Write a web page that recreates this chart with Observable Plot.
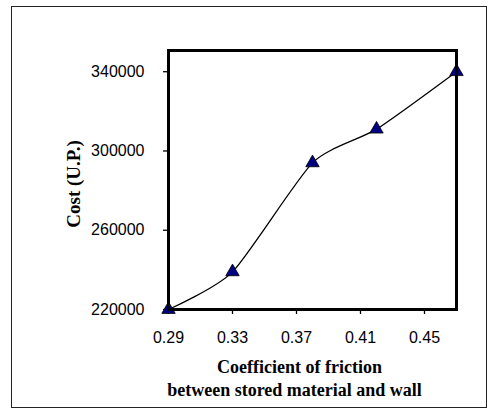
<!DOCTYPE html>
<html>
<head>
<meta charset="utf-8">
<script src="https://cdn.jsdelivr.net/npm/d3@7"></script>
<script src="https://cdn.jsdelivr.net/npm/@observablehq/plot@0.6"></script>
<style>
  html, body { margin: 0; padding: 0; background: #fff; }
  #wrap { position: relative; width: 490px; height: 410px; }
  #border { position: absolute; left: 11px; top: 6px; width: 474px; height: 400px; border: 1.5px solid #222; pointer-events: none; }
  #wrap svg { position: absolute; left: 0; top: 0; }
</style>
</head>
<body>
<div id="wrap"><div id="border"></div></div>
<script>
const friction = [0.29, 0.33, 0.38, 0.42, 0.47];
const cost = [220000, 239000, 294000, 311000, 340000];
const xTicks = [0.29, 0.33, 0.37, 0.41, 0.45];
const yTicks = [220000, 260000, 300000, 340000];
const xLabelLine1 = "Coefficient of friction";
const xLabelLine2 = "between stored material and wall";
const yLabel = "Cost (U.P.)";

const data = friction.map((f, i) => ({f, c: cost[i]}));
const serif = "'Liberation Serif', 'Times New Roman', serif";

const chart = Plot.plot({
  width: 490,
  height: 410,
  marginLeft: 168,
  marginRight: 34,
  marginTop: 50,
  marginBottom: 101,
  style: {fontFamily: "'Liberation Sans', Arial, sans-serif", fontSize: "16px", color: "#000", background: "transparent"},
  x: {domain: [0.29, 0.47]},
  y: {domain: [220000, 350700]},
  marks: [
    Plot.axisX({ticks: xTicks, tickFormat: d3.format(".2f"), tickSize: 5, tickPadding: 17, label: null, stroke: "#000", strokeWidth: 1.3, fontSize: 16, letterSpacing: -0.5}),
    Plot.axisY({ticks: yTicks, tickFormat: d => String(d), tickSize: 5, tickPadding: 19, label: null, stroke: "#000", strokeWidth: 1.3, fontSize: 16, letterSpacing: -0.5}),
    Plot.line(data, {x: "f", y: "c", curve: "cardinal", tension: 0.35, stroke: "#000", strokeWidth: 1.3}),
    Plot.dot(data, {x: "f", y: "c", symbol: "triangle", r: 5, fill: "#000080", stroke: "#000", strokeWidth: 0.8}),
    Plot.frame({stroke: "#000", strokeWidth: 3}),
    Plot.text([yLabel], {frameAnchor: "left", textAnchor: "middle", text: d => d, rotate: -90, dx: -95, dy: 4, fontFamily: serif, fontWeight: "bold", fontSize: 19, letterSpacing: 0.5, fill: "#000"}),
    Plot.text([xLabelLine1], {frameAnchor: "bottom", text: d => d, dx: -13, dy: 63, fontFamily: serif, fontWeight: "bold", fontSize: 18, letterSpacing: 0.4, fill: "#000"}),
    Plot.text([xLabelLine2], {frameAnchor: "bottom", text: d => d, dx: -18, dy: 86, fontFamily: serif, fontWeight: "bold", fontSize: 18, letterSpacing: 0.1, fill: "#000"})
  ]
});
document.getElementById("wrap").prepend(chart);
</script>
</body>
</html>
